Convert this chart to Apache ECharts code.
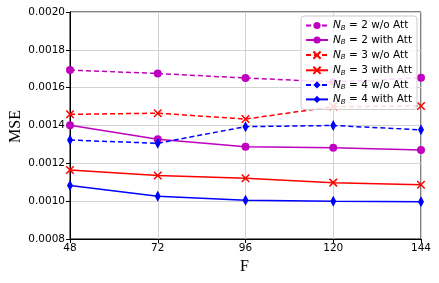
<!DOCTYPE html>
<html><head><meta charset="utf-8">
<script src="https://cdn.jsdelivr.net/npm/echarts@6/dist/echarts.min.js"></script>
<style>html,body{margin:0;padding:0;background:#fff}#c{width:439px;height:283px}</style>
</head><body><div id="c"></div>
<script>
const F = [48, 72, 96, 120, 144];
const nb2NoAtt = [0.001693, 0.001675, 0.001651, 0.00163, 0.001652];
const nb2Att   = [0.001401, 0.001327, 0.001288, 0.001283, 0.00127];
const nb3NoAtt = [0.001459, 0.001465, 0.001434, 0.0015, 0.001503];
const nb3Att   = [0.001165, 0.001136, 0.001121, 0.001098, 0.001087];
const nb4NoAtt = [0.001323, 0.001306, 0.001394, 0.0014, 0.001377];
const nb4Att   = [0.001083, 0.001026, 0.001005, 0.001, 0.000997];
const yTicks = [0.0008, 0.0010, 0.0012, 0.0014, 0.0016, 0.0018, 0.0020];
const names = ['NB=2 w/o Att','NB=2 with Att','NB=3 w/o Att','NB=3 with Att','NB=4 w/o Att','NB=4 with Att'];

const xPath = 'path://M0,0L10,10M10,0L0,10';
function mk(name, data, color, dashed, symbol, size) {
  const isX = symbol === xPath;
  return {
    name: name, type: 'line',
    data: F.map((f, i) => [f, data[i]]),
    symbol: symbol, symbolSize: size, showSymbol: true,
    lineStyle: {color: color, width: 1.5, type: dashed ? [5, 3] : 'solid'},
    itemStyle: isX ? {color: 'none', borderColor: color, borderWidth: 1.5} : {color: color, borderColor: color, borderWidth: 0},
    clip: false, z: 3
  };
}
const M = '#bf00bf', R = '#ff0000', B = '#0000ff';
const series = [
  mk(names[0], nb2NoAtt, M, true, 'circle', 8),
  mk(names[1], nb2Att, M, false, 'circle', 8),
  mk(names[2], nb3NoAtt, R, true, xPath, 7.5),
  mk(names[3], nb3Att, R, false, xPath, 7.5),
  mk(names[4], nb4NoAtt, B, true, 'diamond', [6, 11]),
  mk(names[5], nb4Att, B, false, 'diamond', [6, 11])
];
const chart = echarts.init(document.getElementById('c'), null, {renderer: 'canvas'});
chart.setOption({
  animation: false,
  backgroundColor: '#fff',
  grid: {left: 70, right: 18, top: 12, bottom: 44, show: true, borderColor: '#000', borderWidth: 1},
  xAxis: {
    type: 'value', min: 48, max: 144, interval: 24,
    axisLine: {lineStyle: {color: '#000', width: 1}},
    axisTick: {show: true, length: 4, lineStyle: {color: '#000'}},
    axisLabel: {color: '#000', fontSize: 10.5, fontFamily: 'DejaVu Sans', margin: 4},
    splitLine: {show: true, lineStyle: {color: '#d2d2d2', width: 1}}
  },
  yAxis: {
    type: 'value', min: 0.0008, max: 0.0020, interval: 0.0002,
    axisLine: {show: true, lineStyle: {color: '#000', width: 1}},
    axisTick: {show: true, length: 4, lineStyle: {color: '#000'}},
    axisLabel: {color: '#000', fontSize: 10.5, fontFamily: 'DejaVu Sans', margin: 5,
      formatter: v => v.toFixed(4)},
    splitLine: {show: true, lineStyle: {color: '#d2d2d2', width: 1}}
  },
  legend: {
    show: true, left: 301, top: 16, orient: 'vertical',
    itemWidth: 22, itemHeight: 9, itemGap: 3,
    padding: [4, 5, 4, 4],
    backgroundColor: 'rgba(255,255,255,0.85)', borderColor: '#cccccc', borderWidth: 1, borderRadius: 3,
    data: names,
    formatter: function (n) {
      const rest = n.slice(2);
      return '{i|N}{s|B}{t|' + rest.replace('=', ' = ') + '}';
    },
    textStyle: {
      color: '#000', fontSize: 10.5, fontFamily: 'DejaVu Sans',
      rich: {
        i: {fontStyle: 'italic', fontSize: 10.5, fontFamily: 'DejaVu Sans', color: '#000'},
        s: {fontStyle: 'italic', fontSize: 7, fontFamily: 'DejaVu Sans', color: '#000', padding: [5, 0, 0, 0]},
        t: {fontSize: 10.5, fontFamily: 'DejaVu Sans', color: '#000'}
      }
    }
  },
  graphic: [
    {type: 'text', left: 8, top: 110, rotation: Math.PI / 2,
     style: {text: 'MSE', font: '16px "Liberation Serif"', fill: '#000'}},
    {type: 'text', left: 240, top: 259,
     style: {text: 'F', font: '16px "Liberation Serif"', fill: '#000'}}
  ],
  series: series
});
</script></body></html>
